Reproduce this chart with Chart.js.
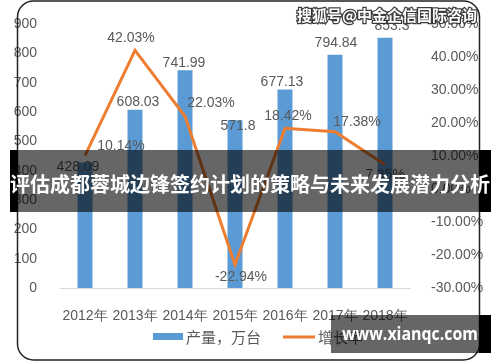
<!DOCTYPE html>
<html>
<head>
<meta charset="utf-8">
<script src="https://cdn.jsdelivr.net/npm/chart.js@4/dist/chart.umd.min.js"></script>
<style>
  body { margin: 0; background: #fff; }
  #wrap { width: 500px; height: 362px; }
</style>
</head>
<body>
<div id="wrap"><canvas id="myChart" width="500" height="362"></canvas></div>
<script>
const years = ["2012年", "2013年", "2014年", "2015年", "2016年", "2017年", "2018年"];
const output = [428.09, 608.03, 741.99, 571.8, 677.13, 794.84, 853.3];
const growth = [10.14, 42.03, 22.03, -22.94, 18.42, 17.38, 7.35];
const seriesNames = ["产量，万台", "增长率"];
const title = "评估成都蓉城边锋签约计划的策略与未来发展潜力分析";

// label nudges (dx, dy) relative to each bar top / line point
const barLabelShift = [[-7, 5], [3, -8], [-1, -7], [3, 6], [-3, -7], [1, -12], [7, -12]];
const lineLabelShift = [[36, -9], [-4, -12], [26, -13], [6, 12], [3, -12], [22, -10], [0, 10]];

const grey = "#595959";
const tickFont = { family: "Liberation Sans", size: 14 };

const overlay = {
  id: "overlay",
  afterDatasetsDraw(chart) {
    const ctx = chart.ctx;
    ctx.save();
    ctx.font = "14px 'Liberation Sans'";
    ctx.fillStyle = grey;
    ctx.textAlign = "center";
    ctx.textBaseline = "middle";
    chart.getDatasetMeta(1).data.forEach((el, i) => {
      ctx.fillText(String(output[i]), el.x + barLabelShift[i][0], el.y + barLabelShift[i][1]);
    });
    chart.getDatasetMeta(0).data.forEach((el, i) => {
      ctx.fillText(growth[i].toFixed(2) + "%", el.x + lineLabelShift[i][0], el.y + lineLabelShift[i][1]);
    });
    ctx.restore();
  },
  afterDraw(chart) {
    const ctx = chart.ctx;
    ctx.save();

    // legend
    ctx.fillStyle = "#5B9BD5";
    ctx.fillRect(153, 333, 30, 7);
    ctx.strokeStyle = "#ED7D31";
    ctx.lineWidth = 3;
    ctx.beginPath();
    ctx.moveTo(283, 337);
    ctx.lineTo(315, 337);
    ctx.stroke();
    ctx.font = "15px 'Noto Sans CJK SC'";
    ctx.fillStyle = grey;
    ctx.textBaseline = "middle";
    ctx.fillText(seriesNames[0], 186, 337);
    ctx.fillText(seriesNames[1], 318, 337);

    // card border
    ctx.strokeStyle = "#222";
    ctx.lineWidth = 1.5;
    ctx.beginPath();
    ctx.roundRect(17.5, 1, 462, 359, 16);
    ctx.stroke();

    // top watermark
    ctx.font = "bold 15px 'Noto Sans CJK SC'";
    ctx.textAlign = "left";
    ctx.lineWidth = 2.5;
    ctx.strokeStyle = "rgba(40,40,40,0.9)";
    ctx.strokeText("搜狐号@中金企信国际咨询", 297, 15);
    ctx.fillStyle = "#fff";
    ctx.fillText("搜狐号@中金企信国际咨询", 297, 15);

    // title band
    ctx.fillStyle = "#000";
    ctx.fillRect(10, 150, 8, 62);
    ctx.fillRect(479, 150, 12, 62);
    ctx.fillStyle = "rgba(0,0,0,0.6)";
    ctx.fillRect(18, 150, 461, 62);
    ctx.fillStyle = "#fff";
    ctx.font = "bold 20px 'Noto Sans CJK SC'";
    ctx.textAlign = "center";
    ctx.fillText(title, 250, 184);

    // bottom watermark
    ctx.fillStyle = "#000";
    ctx.fillRect(479, 315, 12, 38);
    ctx.fillStyle = "rgba(0,0,0,0.6)";
    ctx.fillRect(331, 315, 148, 38);
    ctx.fillStyle = "#fff";
    ctx.font = "bold 18px 'Open Sans'";
    ctx.textAlign = "left";
    ctx.fillText("www.xianqc.com", 342, 335, 136);

    ctx.restore();
  }
};

new Chart(document.getElementById("myChart").getContext("2d"), {
  type: "bar",
  data: {
    labels: years,
    datasets: [
      {
        type: "line",
        label: seriesNames[1],
        data: growth,
        yAxisID: "y1",
        borderColor: "#ED7D31",
        borderWidth: 3,
        pointRadius: 0,
        tension: 0,
        fill: false,
        order: 1
      },
      {
        label: seriesNames[0],
        data: output,
        yAxisID: "y",
        backgroundColor: "#5B9BD5",
        categoryPercentage: 1,
        barPercentage: 0.3,
        order: 2
      }
    ]
  },
  options: {
    responsive: false,
    animation: false,
    layout: { padding: { top: 24, bottom: 0, left: 0, right: 0 } },
    plugins: { legend: { display: false }, tooltip: { enabled: false } },
    scales: {
      x: {
        grid: { display: false },
        border: { display: true, color: "#d9d9d9", width: 1 },
        ticks: { color: grey, font: tickFont, padding: 12, maxRotation: 0 },
        afterFit(s) { s.height = 74; }
      },
      y: {
        position: "left",
        min: 0,
        max: 900,
        grid: { display: false },
        border: { display: false },
        ticks: { stepSize: 100, color: grey, font: tickFont, padding: 15 },
        afterFit(s) { s.width = 60; }
      },
      y1: {
        position: "right",
        min: -30,
        max: 50,
        grid: { display: false },
        border: { display: false },
        ticks: {
          stepSize: 10,
          color: grey,
          font: tickFont,
          padding: 13,
          callback: v => v.toFixed(2) + "%"
        },
        afterFit(s) { s.width = 90; }
      }
    }
  },
  plugins: [overlay]
});
</script>
</body>
</html>
